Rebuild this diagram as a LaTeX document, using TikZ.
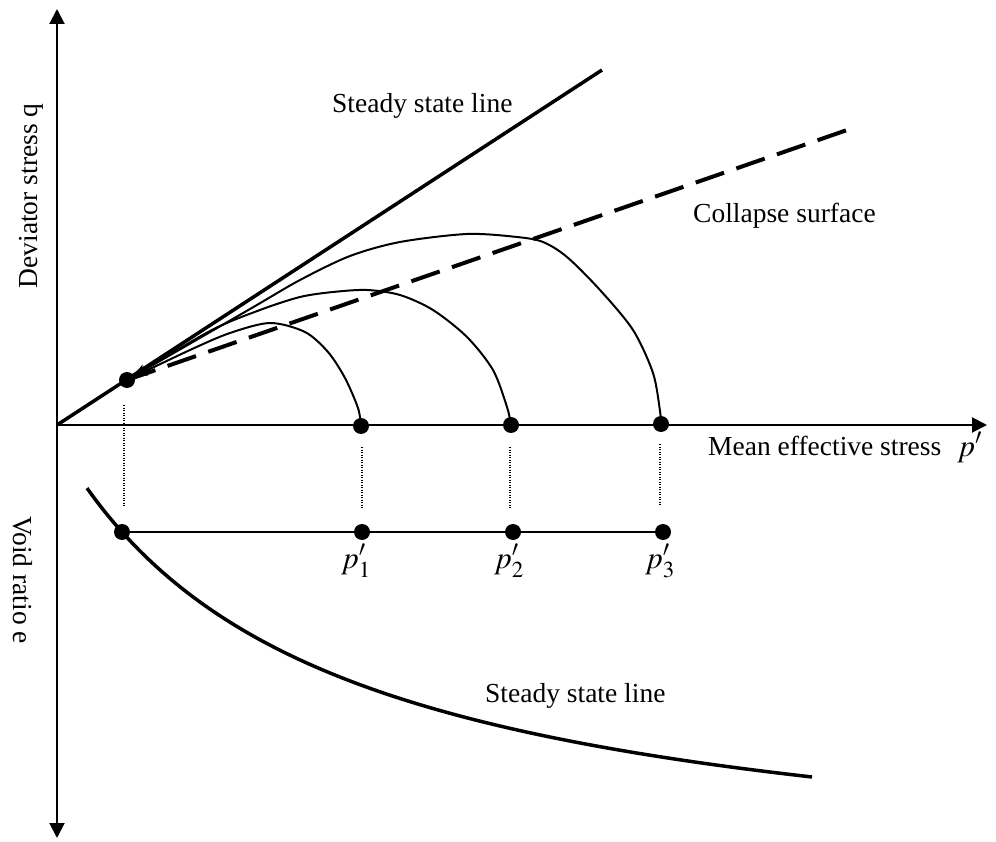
\documentclass[tikz,border=0pt]{standalone}
\usepackage{mathptmx}
\usepackage{fontspec}
\setmainfont{Liberation Serif}
\usetikzlibrary{arrows.meta}
\begin{document}
\begin{tikzpicture}[x=1pt,y=-1pt,
  dot/.style={circle,fill=black,inner sep=0pt,minimum size=16pt},
  lbl/.style={font=\fontsize{27.5}{33}\selectfont,inner sep=0pt},
  plbl/.style={font=\fontsize{31}{36}\selectfont,inner sep=0pt},
  axisline/.style={line width=2pt},
  curve/.style={line width=2pt,-{Stealth[length=15pt,width=10pt]},shorten >=6pt},
  thick line/.style={line width=3.5pt},
  collapse/.style={line width=4pt,dash pattern=on 30pt off 13pt},
  guide/.style={line width=1.2pt,dash pattern=on 1pt off 1.5pt},
  thin line/.style={line width=2pt}]
\useasboundingbox (0,0) rectangle (996,842);

% axes
\coordinate (O) at (57,425);
\coordinate (qtop) at (57,9);
\coordinate (ebot) at (57,838);
\coordinate (pend) at (987,425);
\draw[axisline,{Triangle[length=15pt,width=15pt]}-{Triangle[length=15pt,width=15pt]}] (ebot) -- (qtop);
\draw[axisline,-{Triangle[length=15pt,width=15pt]}] (O) -- (pend);

% axis labels
\node[lbl,rotate=90,anchor=base] (qlab) at (37,196) {Deviator stress q};
\node[lbl,rotate=-90,anchor=base] (elab) at (13,580) {Void ratio e};
\node[lbl,anchor=base west] (plab) at (708,455) {Mean effective stress};
\node[plbl,anchor=base west] (pprime) at (957,456) {$p'$};

% dots
\node[dot] (c) at (127,380) {};
\node[dot] (a1) at (361,426) {};
\node[dot] (a2) at (511,425) {};
\node[dot] (a3) at (661,424) {};
\node[dot] (e0) at (122,532) {};
\node[dot] (e1) at (362,532) {};
\node[dot] (e2) at (513,532) {};
\node[dot] (e3) at (663,532) {};

% steady state line and collapse surface
\coordinate (ssl) at (602,70);
\coordinate (cs) at (850,129);
\draw[thick line] (O) -- (ssl);
\draw[collapse] (c.center) -- (cs);
\node[lbl,anchor=base west] (ssllab) at (332,113) {Steady state line};
\node[lbl,anchor=base west] (cslab) at (693,223) {Collapse surface};

% stress paths
\draw[curve] plot[smooth] coordinates {(a1.center) (358,408) (345,378) (328,352) (305,332) (270,323) (230,333) (190,350) (c.center)};
\draw[curve] plot[smooth] coordinates {(a2.center) (507,407) (493,370) (467,337) (433,310) (400,295) (367,290) (333,292) (300,297) (260,310) (210,331) (c.center)};
\draw[curve] plot[smooth] coordinates {(a3.center) (660,411) (653,373) (633,330) (600,290) (567,257) (543,242) (517,237) (467,234) (400,242) (350,256) (300,280) (250,309) (c.center)};

% dotted guides
\coordinate (g0t) at (124,405); \coordinate (g0b) at (124,507);
\coordinate (g1t) at (362,447); \coordinate (g1b) at (362,508);
\coordinate (g2t) at (510,447); \coordinate (g2b) at (510,508);
\coordinate (g3t) at (660,444); \coordinate (g3b) at (660,506);
\draw[guide] (g0t) -- (g0b);
\draw[guide] (g1t) -- (g1b);
\draw[guide] (g2t) -- (g2b);
\draw[guide] (g3t) -- (g3b);

% lower line
\draw[thin line] (e0) -- (e1) -- (e2) -- (e3);
\node[plbl,anchor=base] (p1) at (356,568) {$p'_1$};
\node[plbl,anchor=base] (p2) at (509,568) {$p'_2$};
\node[plbl,anchor=base] (p3) at (660,568) {$p'_3$};

% e - p' steady state line (hyperbola through the e0 dot)
\draw[thick line] plot[domain=87:812,samples=80,smooth] (\x,{891.3-1157.03/((\x+200)/100)});
\node[lbl,anchor=base west] (ssl2lab) at (485,702) {Steady state line};
\end{tikzpicture}
\end{document}
